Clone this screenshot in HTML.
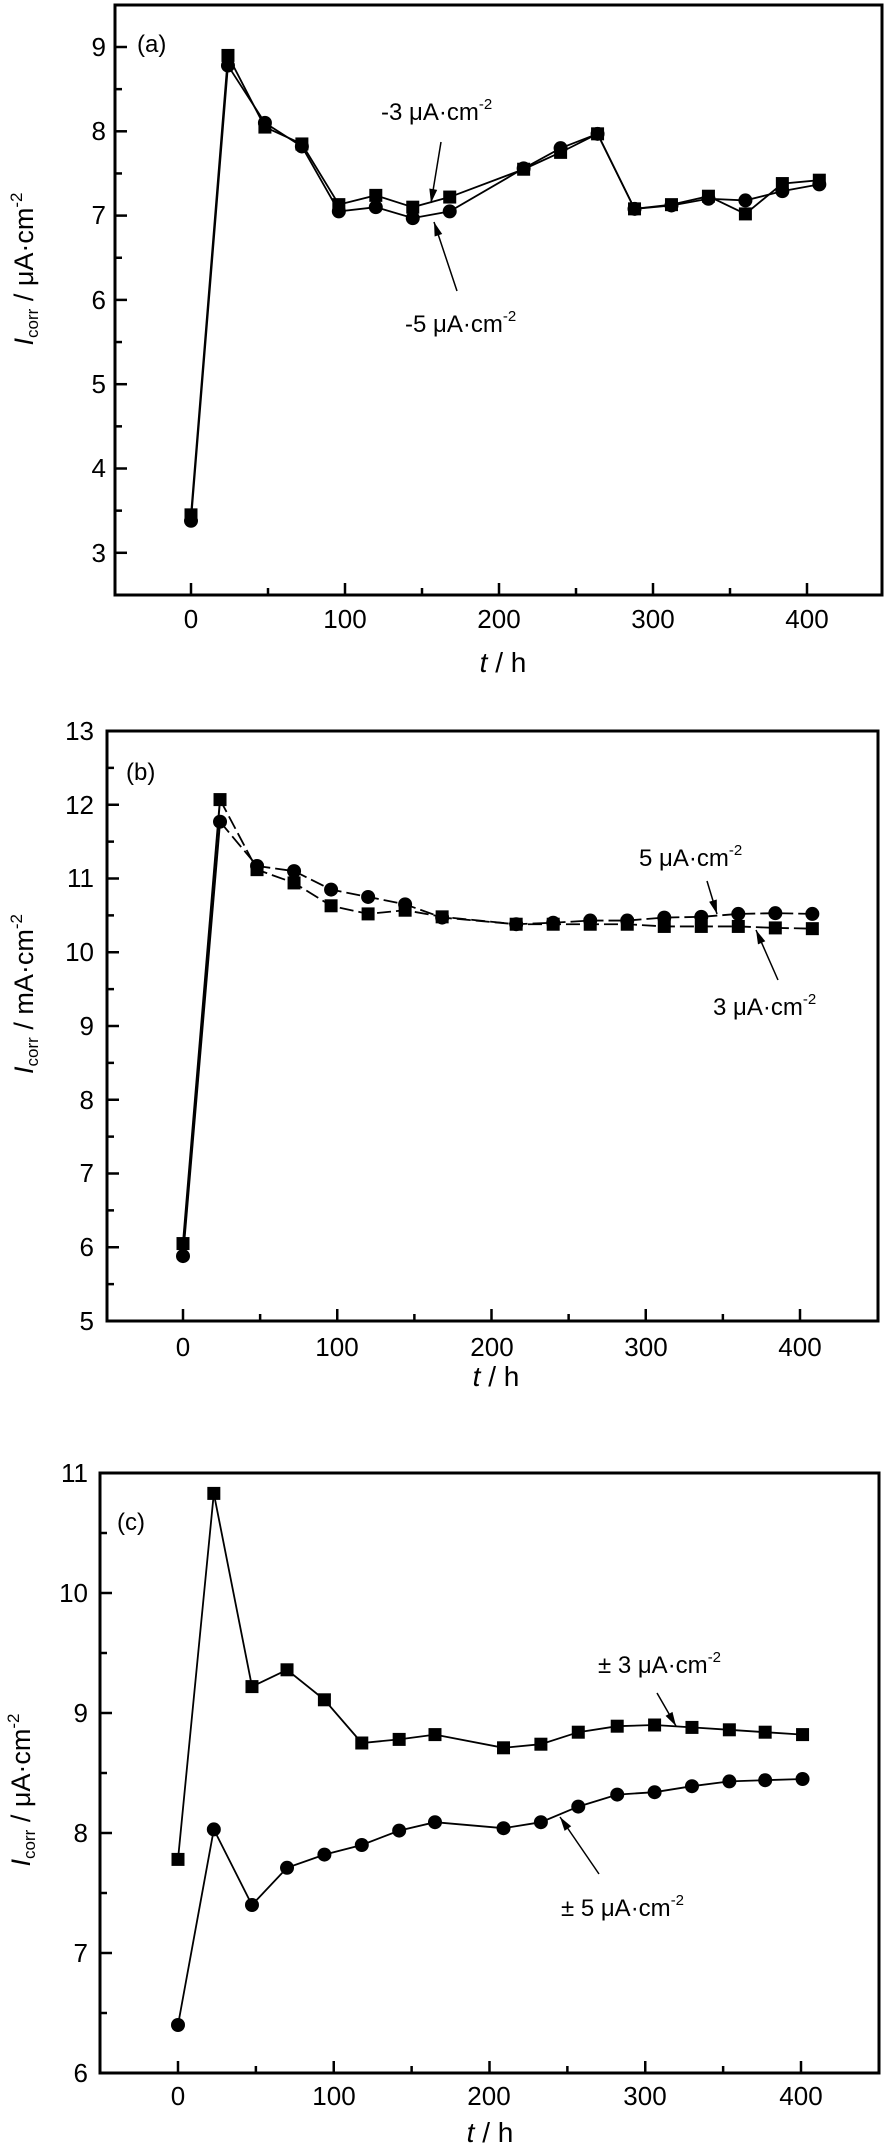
<!DOCTYPE html>
<html><head><meta charset="utf-8"><style>
html,body{margin:0;padding:0;background:#fff;}
svg{display:block;font-family:"Liberation Sans",Arial,sans-serif;}
.tk{font-size:26px;}
.an{font-size:24px;}
</style></head><body>
<svg id="s" width="886" height="2147" viewBox="0 0 886 2147" xmlns="http://www.w3.org/2000/svg">
<rect width="886" height="2147" fill="#fff"/>
<g id="frames" fill="none" stroke="#000" stroke-width="3">
<rect x="115" y="5" width="767" height="590"/>
<rect x="107" y="731" width="771" height="590"/>
<rect x="100" y="1473" width="779" height="600"/>
</g>
<g id="ticks" stroke="#000" stroke-width="2.5"></g>
<g id="data"></g>
<!-- panel a text -->
<g class="tk" text-anchor="end">
<text x="106" y="56">9</text><text x="106" y="140">8</text><text x="106" y="224">7</text><text x="106" y="309">6</text><text x="106" y="393">5</text><text x="106" y="477">4</text><text x="106" y="562">3</text>
</g>
<g class="tk" text-anchor="middle">
<text x="191" y="628">0</text><text x="345" y="628">100</text><text x="499" y="628">200</text><text x="653" y="628">300</text><text x="807" y="628">400</text>
<text x="503" y="672" font-size="28"><tspan font-style="italic">t</tspan> / h</text>
</g>
<text class="an" x="137" y="52">(a)</text>
<text class="an" x="381" y="120">-3 μA·cm<tspan font-size="15" dy="-11">-2</tspan></text>
<text class="an" x="405" y="332">-5 μA·cm<tspan font-size="15" dy="-11">-2</tspan></text>
<text transform="translate(33,269) rotate(-90)" text-anchor="middle" font-size="27"><tspan font-style="italic">I</tspan><tspan font-size="17" dy="5">corr</tspan><tspan dy="-5"> / μA·cm</tspan><tspan font-size="17" dy="-11">-2</tspan></text>
<!-- panel b text -->
<g class="tk" text-anchor="end">
<text x="94" y="740">13</text><text x="94" y="814">12</text><text x="94" y="887">11</text><text x="94" y="961">10</text><text x="94" y="1035">9</text><text x="94" y="1109">8</text><text x="94" y="1182">7</text><text x="94" y="1256">6</text><text x="94" y="1330">5</text>
</g>
<g class="tk" text-anchor="middle">
<text x="183" y="1356">0</text><text x="337" y="1356">100</text><text x="492" y="1356">200</text><text x="646" y="1356">300</text><text x="800" y="1356">400</text>
<text x="496" y="1386" font-size="28"><tspan font-style="italic">t</tspan> / h</text>
</g>
<text class="an" x="126" y="780">(b)</text>
<text class="an" x="639" y="866">5 μA·cm<tspan font-size="15" dy="-11">-2</tspan></text>
<text class="an" x="713" y="1015">3 μA·cm<tspan font-size="15" dy="-11">-2</tspan></text>
<text transform="translate(33,994) rotate(-90)" text-anchor="middle" font-size="27"><tspan font-style="italic">I</tspan><tspan font-size="17" dy="5">corr</tspan><tspan dy="-5"> / mA·cm</tspan><tspan font-size="17" dy="-11">-2</tspan></text>
<!-- panel c text -->
<g class="tk" text-anchor="end">
<text x="88" y="1482">11</text><text x="88" y="1602">10</text><text x="88" y="1722">9</text><text x="88" y="1842">8</text><text x="88" y="1962">7</text><text x="88" y="2082">6</text>
</g>
<g class="tk" text-anchor="middle">
<text x="178" y="2105">0</text><text x="334" y="2105">100</text><text x="489" y="2105">200</text><text x="645" y="2105">300</text><text x="801" y="2105">400</text>
<text x="490" y="2142" font-size="28"><tspan font-style="italic">t</tspan> / h</text>
</g>
<text class="an" x="117" y="1530">(c)</text>
<text class="an" x="598" y="1673">± 3 μA·cm<tspan font-size="15" dy="-11">-2</tspan></text>
<text class="an" x="561" y="1916">± 5 μA·cm<tspan font-size="15" dy="-11">-2</tspan></text>
<text transform="translate(30,1790) rotate(-90)" text-anchor="middle" font-size="27"><tspan font-style="italic">I</tspan><tspan font-size="17" dy="5">corr</tspan><tspan dy="-5"> / μA·cm</tspan><tspan font-size="17" dy="-11">-2</tspan></text>
</svg>
<script>
var NS="http://www.w3.org/2000/svg";
function el(p,n,a){var e=document.createElementNS(NS,n);for(var k in a)e.setAttribute(k,a[k]);p.appendChild(e);return e;}
var T=document.getElementById('ticks'),D=document.getElementById('data');
var P=[
 {x0:191,sx:1.54,y0:47,v0:9,sy:84.3,L:115,R:882,B:595,Top:5,vmin:2.5,vmax:9.5},
 {x0:183,sx:1.5425,y0:731,v0:13,sy:73.75,L:107,R:878,B:1321,Top:731,vmin:5,vmax:13},
 {x0:178,sx:1.5575,y0:1473,v0:11,sy:120,L:100,R:879,B:2073,Top:1473,vmin:6,vmax:11}
];
P.forEach(function(p){
 for(var v=Math.ceil(p.vmin*2)/2;v<=p.vmax+1e-9;v+=0.5){var y=p.y0+(p.v0-v)*p.sy;if(y<p.Top+2||y>p.B-2)continue;var maj=Math.abs(v-Math.round(v))<1e-6;el(T,'line',{x1:p.L,y1:y,x2:p.L+(maj?12:7),y2:y});}
 for(var t=0;t<=450;t+=50){var x=p.x0+t*p.sx;if(x>p.R-2)continue;var maj=t%100==0;el(T,'line',{x1:x,y1:p.B,x2:x,y2:p.B-(maj?12:7)});}
});
function series(p,ts,vs,mk,dash){
 var pts=ts.map(function(t,i){return [p.x0+t*p.sx,p.y0+(p.v0-vs[i])*p.sy];});
 if(dash){
  el(D,'line',{x1:pts[0][0],y1:pts[0][1],x2:pts[1][0],y2:pts[1][1],stroke:'#000','stroke-width':2});
  el(D,'polyline',{points:pts.slice(1).map(function(q){return q.join(',')}).join(' '),fill:'none',stroke:'#000','stroke-width':1.8,'stroke-dasharray':dash});
 } else {
  el(D,'polyline',{points:pts.map(function(q){return q.join(',')}).join(' '),fill:'none',stroke:'#000','stroke-width':1.8});
 }
 pts.forEach(function(q){if(mk=='s')el(D,'rect',{x:q[0]-6.5,y:q[1]-6.5,width:13,height:13,fill:'#000'});else el(D,'circle',{cx:q[0],cy:q[1],r:7,fill:'#000'});});
}
var ta=[0,24,48,72,96,120,144,168,216,240,264,288,312,336,360,384,408];
series(P[0],ta,[3.45,8.9,8.05,7.85,7.13,7.24,7.1,7.22,7.55,7.75,7.97,7.08,7.13,7.23,7.02,7.38,7.42],'s');
series(P[0],ta,[3.38,8.78,8.1,7.82,7.05,7.1,6.97,7.05,7.56,7.8,7.97,7.08,7.12,7.2,7.18,7.29,7.37],'c');
series(P[1],ta,[6.05,12.07,11.12,10.94,10.63,10.52,10.57,10.48,10.38,10.38,10.38,10.38,10.35,10.35,10.35,10.33,10.32],'s','14,5');
series(P[1],ta,[5.88,11.77,11.17,11.1,10.85,10.75,10.65,10.47,10.38,10.4,10.43,10.43,10.47,10.48,10.52,10.53,10.52],'c','14,5');
var tc=[0,23,47.5,70,94,118,142,165,209,233,257,282,306,330,354,377,401];
series(P[2],tc,[7.78,10.83,9.22,9.36,9.11,8.75,8.78,8.82,8.71,8.74,8.84,8.89,8.9,8.88,8.86,8.84,8.82],'s');
series(P[2],tc,[6.4,8.03,7.40,7.71,7.82,7.90,8.02,8.09,8.04,8.09,8.22,8.32,8.34,8.39,8.43,8.44,8.45],'c');
function arrow(x1,y1,x2,y2){
 el(D,'line',{x1:x1,y1:y1,x2:x2,y2:y2,stroke:'#000','stroke-width':1.5});
 var a=Math.atan2(y2-y1,x2-x1),l=14,w=4;
 var bx=x2-l*Math.cos(a),by=y2-l*Math.sin(a);
 el(D,'polygon',{points:x2+','+y2+' '+(bx-w*Math.sin(a))+','+(by+w*Math.cos(a))+' '+(bx+w*Math.sin(a))+','+(by-w*Math.cos(a)),fill:'#000'});
}
arrow(441,142,431,203);
arrow(457,291,434,222);
arrow(707,881,717,914);
arrow(778,980,756,930);
arrow(657,1693,676,1726);
arrow(599,1874,560,1817);
</script>
</body></html>
